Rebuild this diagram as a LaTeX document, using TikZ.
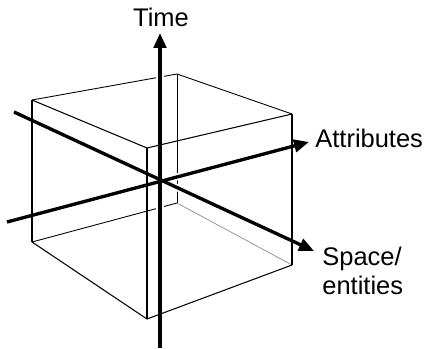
\documentclass[tikz,border=0pt]{standalone}
\usepackage{fontspec}
\setmainfont{Liberation Sans}
\usetikzlibrary{calc, positioning, arrows.meta}

\begin{document}
\begin{tikzpicture}[x=0.02cm,y=-0.02cm,
    edge/.style={black,line width=0.6pt,line join=miter},
    backedge/.style={black,line width=0.5pt},
    halo/.style={white,line width=4pt},
    axis/.style={black,line width=1.9pt,-{Triangle[length=0.3cm,width=0.25cm]}},
    lbl/.style={inner sep=0pt,font=\fontsize{14.5}{16.5}\selectfont}]
    \useasboundingbox (0,0) rectangle (425,348);

    % cube corners
    \coordinate (A) at (32,100);  % top left
    \coordinate (B) at (177,74);  % top back
    \coordinate (C) at (292,114); % top right
    \coordinate (D) at (147,148); % top front
    \coordinate (A1) at (32,242);
    \coordinate (B1) at (177,203);
    \coordinate (C1) at (292,265);
    \coordinate (D1) at (147,319);

    % axis ends
    \coordinate (t0) at (160,348);
    \coordinate (t1) at (160,33);
    \coordinate (a0) at (7,222);
    \coordinate (a1) at (309,142);
    \coordinate (s0) at (14,112);
    \coordinate (s1) at (314,251);

    % back of the cube
    \draw[backedge] (A) -- (B) -- (C); %top
    \draw[backedge] (B) -- (B1); %back
    \draw[backedge] (A1) -- (B1); %bottom
    \draw[backedge,black!45,line width=0.4pt] (B1) -- (C1); %bottom

    % axes
    \draw[halo] (t0) -- (t1);
    \draw[halo] (a0) -- (a1);
    \draw[halo] (s0) -- (s1);
    \draw[axis] (t0) -- (t1); %time
    \draw[axis] (a0) -- (a1); %attributes
    \draw[axis] (s0) -- (s1); %space

    % front of the cube
    \draw[edge,preaction={halo,line width=2.5pt}] (A) -- (D) -- (C);
    \draw[edge,preaction={halo,line width=2.5pt}] (A) -- (A1);
    \draw[edge,preaction={halo,line width=2.5pt}] (D) -- (D1);
    \draw[edge,preaction={halo,line width=2.5pt}] (C) -- (C1);
    \draw[edge,preaction={halo,line width=2.5pt}] (A1) -- (D1) -- (C1);

    \node[lbl,anchor=base] (time) at (161,27) {Time};
    \node[lbl,anchor=base west] (attr) at (315,147) {Attributes};
    \node[lbl,anchor=north west,align=left] (space) at (322,247) {Space/\\entities};
\end{tikzpicture}
\end{document}
